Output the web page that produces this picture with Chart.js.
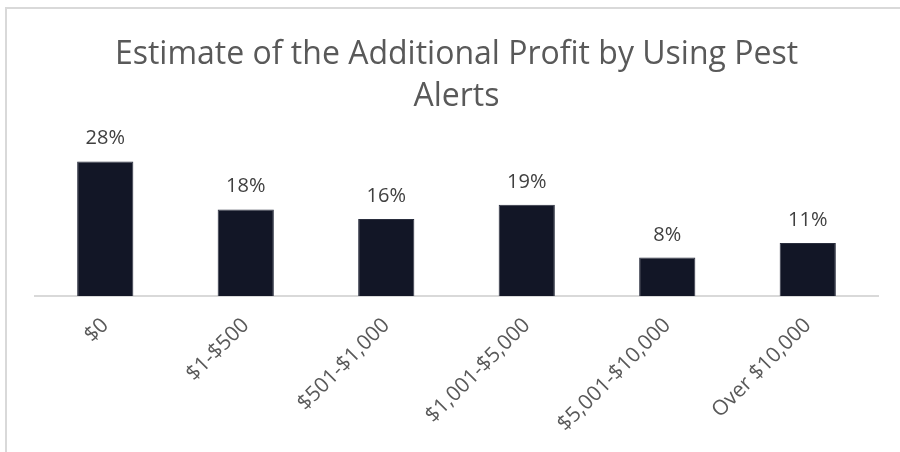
<!DOCTYPE html>
<html>
<head>
<meta charset="utf-8">
<script src="https://cdn.jsdelivr.net/npm/chart.js@4/dist/chart.umd.min.js"></script>
<style>
  html, body { margin: 0; padding: 0; background: #ffffff; }
  #wrap { position: relative; width: 900px; height: 452px; }
  canvas { display: block; }
</style>
</head>
<body>
<div id="wrap"><canvas id="c" width="900" height="452"></canvas></div>
<script>
const categories = ["$0", "$1-$500", "$501-$1,000", "$1,001-$5,000", "$5,001-$10,000", "Over $10,000"];
const percentValues = [28, 18, 16, 19, 8, 11];
const titleLines = ["Estimate of the Additional Profit by Using Pest", "Alerts"];

const FONT = "'Open Sans', 'Liberation Sans', sans-serif";

const frameBorder = {
  id: 'frameBorder',
  beforeDraw(chart) {
    const ctx = chart.ctx;
    ctx.save();
    ctx.fillStyle = '#ffffff';
    ctx.fillRect(0, 0, chart.width, chart.height);
    ctx.fillStyle = '#d9d9d9';
    ctx.fillRect(5, 7, chart.width - 5, 2);
    ctx.fillRect(5, 7, 2, chart.height - 7);
    ctx.restore();
  }
};

const barLabels = {
  id: 'barLabels',
  afterDatasetsDraw(chart) {
    const ctx = chart.ctx;
    const meta = chart.getDatasetMeta(0);
    const data = chart.data.datasets[0].data;
    ctx.save();
    ctx.font = "20px " + FONT;
    ctx.fillStyle = '#404040';
    ctx.textAlign = 'center';
    ctx.textBaseline = 'alphabetic';
    meta.data.forEach((bar, i) => {
      ctx.fillText(data[i] + '%', bar.x, bar.y - 17);
    });
    ctx.restore();
  }
};

new Chart(document.getElementById('c'), {
  type: 'bar',
  data: {
    labels: categories,
    datasets: [{
      data: percentValues,
      backgroundColor: '#121626',
      borderColor: '#2a2e3e',
      borderWidth: 1,
      categoryPercentage: 1.0,
      barPercentage: 0.4
    }]
  },
  options: {
    responsive: false,
    animation: false,
    devicePixelRatio: 1,
    layout: { padding: { top: 0, left: 35, right: 22, bottom: 0 } },
    plugins: {
      legend: { display: false },
      tooltip: { enabled: false },
      title: {
        display: true,
        text: titleLines,
        color: '#595959',
        font: { family: FONT, size: 32, weight: 'normal', lineHeight: 1.34 },
        padding: { top: 33, bottom: 33 }
      }
    },
    scales: {
      x: {
        grid: { display: false, drawTicks: false },
        border: { color: '#d9d9d9', width: 2 },
        ticks: {
          color: '#595959',
          font: { family: FONT, size: 21 },
          minRotation: 45,
          maxRotation: 45,
          padding: 17,
          autoSkip: false
        },
        afterFit(scale) { scale.height = 156; }
      },
      y: {
        display: false,
        min: 0,
        max: 30
      }
    }
  },
  plugins: [frameBorder, barLabels]
});
</script>
</body>
</html>
